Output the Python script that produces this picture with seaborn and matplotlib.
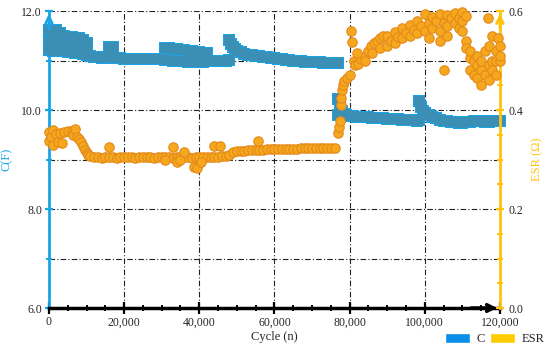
import matplotlib
matplotlib.use("Agg")
import pandas as pd
import matplotlib.pyplot as plt
import seaborn as sns
from matplotlib.patches import Patch
from matplotlib.ticker import MultipleLocator, FuncFormatter

# capacitance C (F) vs cycle
c_cycle = [
    0, 1000, 2000, 3000, 4000, 5000, 6000, 7000, 8000, 9000, 10000,
    0, 1000, 2000, 3000, 4000, 5000, 6000, 7000, 8000, 9000, 10000,
    0, 1000, 2000, 3000, 4000, 5000, 6000, 7000, 8000, 9000, 10000,
    11000, 12000, 13000, 14000, 15000, 16000, 16000, 17000, 17000, 18000,
    19000, 20000, 21000, 22000, 23000, 24000, 25000, 26000, 27000, 28000,
    29000, 30000,
    31000, 31000, 32000, 32000, 33000, 33000, 34000, 34000, 35000, 35000,
    36000, 36000, 37000, 37000, 38000, 38000, 39000, 39000, 40000, 40000,
    41000, 41000, 42000, 42000, 43000, 44000, 45000, 46000, 47000,
    48000, 48000, 48500, 49000, 49500, 50000, 51000, 52000, 53000, 54000,
    55000, 56000, 57000, 58000, 59000, 60000, 61000, 62000, 63000, 64000,
    65000, 66000, 67000, 68000, 69000, 70000, 71000, 72000, 73000, 74000,
    75000, 76000, 77000,
    77000, 77000, 77500, 78000, 78500, 79000, 80000, 81000, 82000, 83000,
    84000, 85000, 86000, 87000, 88000, 89000, 90000, 91000, 92000, 93000,
    94000, 95000, 96000, 97000, 98000,
    98500, 98500, 99000, 99500, 100000, 101000, 102000, 103000, 104000,
    105000, 106000, 107000, 108000, 109000, 110000, 111000, 112000, 113000,
    114000, 115000, 116000, 117000, 118000, 119000, 120000,
]
c_value = [
    11.62, 11.60, 11.62, 11.55, 11.50, 11.48, 11.47, 11.46, 11.45, 11.42, 11.36,
    11.40, 11.42, 11.38, 11.36, 11.34, 11.33, 11.32, 11.30, 11.28, 11.26, 11.22,
    11.22, 11.20, 11.24, 11.22, 11.20, 11.18, 11.17, 11.16, 11.15, 11.14, 11.12,
    11.10, 11.08, 11.07, 11.06, 11.06, 11.28, 11.08, 11.28, 11.07, 11.06,
    11.05, 11.04, 11.04, 11.03, 11.03, 11.03, 11.03, 11.03, 11.03, 11.03,
    11.03, 11.03,
    11.25, 11.02, 11.25, 11.01, 11.24, 11.00, 11.23, 11.00, 11.22, 10.99,
    11.21, 10.99, 11.20, 10.98, 11.19, 10.98, 11.18, 10.98, 11.17, 10.98,
    11.16, 10.98, 11.15, 10.99, 10.99, 10.99, 11.00, 11.00, 11.00,
    11.42, 11.02, 11.34, 11.28, 11.23, 11.20, 11.17, 11.14, 11.12, 11.11,
    11.10, 11.09, 11.08, 11.07, 11.06, 11.05, 11.04, 11.03, 11.02, 11.01,
    11.00, 10.99, 10.99, 10.98, 10.98, 10.97, 10.97, 10.97, 10.96, 10.96,
    10.96, 10.96, 10.96,
    10.22, 9.90, 10.08, 9.98, 9.93, 9.90, 9.88, 9.87, 9.86, 9.86,
    9.85, 9.85, 9.84, 9.84, 9.83, 9.83, 9.82, 9.82, 9.81, 9.81,
    9.80, 9.80, 9.79, 9.79, 9.78,
    10.18, 9.80, 10.06, 9.99, 9.94, 9.90, 9.86, 9.83, 9.80,
    9.78, 9.77, 9.76, 9.75, 9.74, 9.74, 9.75, 9.76, 9.77,
    9.77, 9.77, 9.76, 9.76, 9.77, 9.77, 9.77,
]

# equivalent series resistance ESR (ohm) vs cycle, circle markers
esr_cycle = [
    0, 0, 500, 1000, 1000, 2000, 2500, 3000, 3500, 4000, 5000, 6000, 6500,
    7000, 7500, 8000, 8500, 9000, 9500, 10000, 10500, 11000,
    12000, 13000, 14000, 15000, 16000, 17000, 18000, 19000, 20000, 21000,
    22000, 23000, 24000, 25000, 26000, 27000, 28000, 29000, 30000, 31000,
    32000, 33000, 34000, 35000, 36000, 37000, 38000, 39000, 40000, 41000,
    42000, 43000, 44000, 45000, 46000, 47000, 48000,
    16000, 33000, 34000, 35000, 36000, 38500, 39500, 40500, 44000, 45500, 31000,
    49000, 50000, 51000, 52000, 53000, 54000, 55000, 56000, 57000, 58000,
    59000, 60000, 61000, 62000, 63000, 64000, 65000, 66000, 67000, 68000,
    69000, 70000, 71000, 72000, 73000, 74000, 75000, 76000, 55600,
    77000, 77200, 77400, 77600, 77800, 78000, 78300, 78600, 79200, 80000,
    80300, 80700, 81100, 81500, 82200, 83000, 84000, 84800, 85600, 86400,
    87200, 88000,
    82000, 84000, 86000, 88000, 89000, 90000, 90000, 91000, 92000, 92000,
    93000, 94000, 94000, 95000, 96000, 96000, 97000, 98000, 98000, 99000,
    100000, 100000, 101000, 101000, 102000, 102000, 103000, 104000, 104000,
    104000, 105000, 105000, 106000, 106000, 106000, 107000, 108000, 108000,
    109000, 109000, 110000, 110000, 110000, 111000, 111000, 111000,
    112000, 112000, 112000, 113000, 113000, 114000, 114000, 114000, 115000,
    115000, 115000, 116000, 116000, 116800, 117000, 117000, 117000, 118000,
    118000, 118000, 119000, 119000, 119000, 119500, 120000, 120000, 120000,
]
esr_value = [
    0.356, 0.338, 0.346, 0.330, 0.360, 0.352, 0.335, 0.354, 0.333, 0.356,
    0.357, 0.358, 0.350, 0.362, 0.346, 0.342, 0.335, 0.328, 0.320, 0.314,
    0.310, 0.307,
    0.305, 0.305, 0.304, 0.305, 0.306, 0.305, 0.304, 0.305, 0.305, 0.306,
    0.305, 0.304, 0.305, 0.305, 0.306, 0.305, 0.304, 0.305, 0.305, 0.306,
    0.305, 0.304, 0.305, 0.305, 0.306, 0.305, 0.304, 0.305, 0.305, 0.306,
    0.305, 0.305, 0.306, 0.306, 0.307, 0.308, 0.310,
    0.326, 0.326, 0.296, 0.300, 0.316, 0.284, 0.283, 0.296, 0.327, 0.327, 0.300,
    0.316, 0.317, 0.318, 0.318, 0.319, 0.319, 0.320, 0.320, 0.320, 0.321,
    0.321, 0.321, 0.321, 0.322, 0.322, 0.322, 0.322, 0.322, 0.323, 0.323,
    0.323, 0.323, 0.323, 0.323, 0.323, 0.323, 0.323, 0.323, 0.337,
    0.353, 0.365, 0.378, 0.410, 0.425, 0.440, 0.450, 0.458, 0.465, 0.470,
    0.560, 0.537, 0.500, 0.490, 0.494, 0.504, 0.510, 0.520, 0.530, 0.536,
    0.540, 0.546,
    0.515, 0.500, 0.515, 0.525, 0.550, 0.530, 0.550, 0.540, 0.535, 0.558,
    0.548, 0.545, 0.565, 0.555, 0.550, 0.572, 0.562, 0.555, 0.580, 0.570,
    0.560, 0.594, 0.575, 0.545, 0.565, 0.588, 0.580, 0.560, 0.595,
    0.540, 0.480, 0.575, 0.570, 0.592, 0.550, 0.585, 0.575, 0.597,
    0.585, 0.565, 0.580, 0.598, 0.560, 0.540, 0.525, 0.590,
    0.505, 0.480, 0.520, 0.470, 0.500, 0.490, 0.465, 0.510, 0.450,
    0.480, 0.500, 0.470, 0.520, 0.586, 0.490, 0.530, 0.460, 0.500,
    0.550, 0.480, 0.520, 0.470, 0.500, 0.545, 0.530, 0.500, 0.510,
]

blue = "#18a4e6"
yellow = "#ffc20e"

sns.set_theme(style="white")
plt.rcParams["font.family"] = ["Liberation Serif", "DejaVu Serif"]

c_df = pd.DataFrame({"cycle": c_cycle, "C": c_value})
esr_df = pd.DataFrame({"cycle": esr_cycle, "ESR": esr_value})

fig = plt.figure(figsize=(5.5, 3.51), dpi=100)
ax = fig.add_axes([0.089, 0.1225, 0.82, 0.846])
ax2 = ax.twinx()

# C band: light blue outline layer, then teal fill on top
sns.scatterplot(data=c_df, x="cycle", y="C", ax=ax, marker="s", s=80,
                color=blue, linewidth=0, clip_on=False, legend=False, zorder=3)
sns.scatterplot(data=c_df, x="cycle", y="C", ax=ax, marker="s", s=54,
                color="#3b8fb4", linewidth=0, clip_on=False, legend=False, zorder=3)
sns.scatterplot(data=esr_df, x="cycle", y="ESR", ax=ax2, marker="o", s=46,
                color="#f5a81e", edgecolor="#e5891a", linewidth=0.8,
                clip_on=False, legend=False, zorder=3)

ax.set_xlim(0, 120000)
ax.set_ylim(6, 12)
ax2.set_ylim(0, 0.6)

# grid
dashdot = (0, (5, 2, 1, 2))
ax.xaxis.set_major_locator(MultipleLocator(20000))
ax.xaxis.set_minor_locator(MultipleLocator(5000))
ax.yaxis.set_major_locator(MultipleLocator(2))
ax.yaxis.set_minor_locator(MultipleLocator(1))
ax2.yaxis.set_major_locator(MultipleLocator(0.2))
ax2.yaxis.set_minor_locator(MultipleLocator(0.05))
ax.grid(True, which="major", axis="x", color="#222222", lw=0.8, linestyle=dashdot)
ax.grid(True, which="both", axis="y", color="#222222", lw=0.8, linestyle=dashdot)
ax.set_axisbelow(True)

ax.xaxis.set_major_formatter(FuncFormatter(lambda x, _: f"{x:,.0f}"))
ax.yaxis.set_major_formatter(FuncFormatter(lambda y, _: f"{y:.1f}"))
ax2.yaxis.set_major_formatter(FuncFormatter(lambda y, _: f"{y:.1f}"))

# spines
for side in ["top", "right"]:
    ax.spines[side].set_visible(False)
for side in ["top", "left", "bottom"]:
    ax2.spines[side].set_visible(False)
ax.spines["left"].set_color(blue)
ax.spines["left"].set_linewidth(2)
ax.spines["bottom"].set_color("black")
ax.spines["bottom"].set_linewidth(2.5)
ax.spines["bottom"].set_zorder(4)
ax2.spines["right"].set_color(yellow)
ax2.spines["right"].set_linewidth(2)

ax.tick_params(axis="x", which="major", direction="inout", length=8, width=1.6,
               color="black", labelsize=8.5, pad=2, bottom=True)
ax.tick_params(axis="x", which="minor", direction="inout", length=5, width=1.4,
               color="black", bottom=True)
ax.tick_params(axis="y", which="major", direction="inout", length=6, width=1.6,
               color=blue, labelsize=8.5, pad=2, left=True)
ax.tick_params(axis="y", which="minor", direction="inout", length=5, width=1.4,
               color=blue, left=True)
ax2.tick_params(axis="y", which="major", direction="inout", length=6, width=1.6,
                color=yellow, labelsize=8.5, pad=3, right=True)
ax2.tick_params(axis="y", which="minor", direction="inout", length=5, width=1.4,
                color=yellow, right=True)

# arrow heads on the axes
ax.annotate("", xy=(0, 1.0), xytext=(0, 0.93), xycoords="axes fraction",
            arrowprops=dict(arrowstyle="->", color=blue, lw=2, mutation_scale=12))
ax.annotate("", xy=(1.0, 0), xytext=(0.93, 0), xycoords="axes fraction",
            arrowprops=dict(arrowstyle="->", color="black", lw=2.5, mutation_scale=12))
ax2.annotate("", xy=(1.0, 1.0), xytext=(1.0, 0.93), xycoords="axes fraction",
             arrowprops=dict(arrowstyle="->", color=yellow, lw=2, mutation_scale=12))

ax.set_xlabel("Cycle (n)", fontsize=9, labelpad=2)
ax.set_ylabel("C(F)", fontsize=9, color=blue, labelpad=6)
ax2.set_ylabel("ESR (\u03a9)", fontsize=9, color=yellow, labelpad=6)

handles = [Patch(facecolor="#0a8ee6", label="C"),
           Patch(facecolor="#ffcc00", label="ESR")]
fig.legend(handles=handles, loc="lower right", bbox_to_anchor=(1.01, -0.015),
           ncol=2, frameon=False, fontsize=9, handlelength=2.0,
           handleheight=0.9, columnspacing=0.4, handletextpad=0.5)

fig.savefig("out.png", dpi=100)
